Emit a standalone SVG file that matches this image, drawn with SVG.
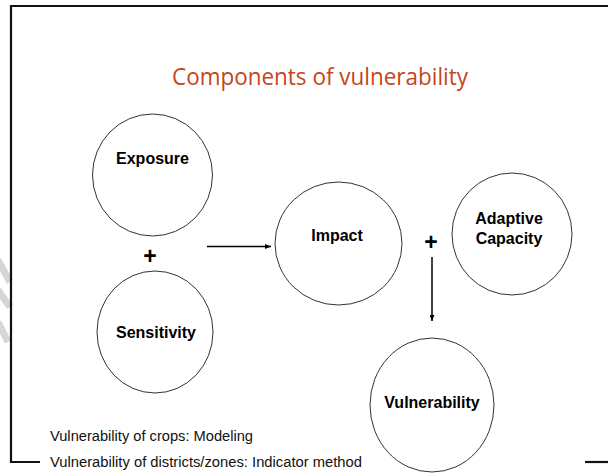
<svg xmlns="http://www.w3.org/2000/svg" width="608" height="476" viewBox="0 0 608 476">
  <defs>
    <marker id="arrow" viewBox="0 0 10 8" refX="10" refY="4" markerWidth="6" markerHeight="5" orient="auto" markerUnits="userSpaceOnUse">
      <path d="M0,0 L10,4 L0,8 z" fill="#000"/>
    </marker>
  </defs>
  <style>
    .node { fill: #fff; stroke: #333; stroke-width: 1; }
    .label { font-family: "Liberation Sans", Arial, sans-serif; font-weight: bold; font-size: 16px; fill: #000; text-anchor: middle; }
    .plus { font-family: "Liberation Sans", Arial, sans-serif; font-weight: bold; font-size: 23px; fill: #000; text-anchor: middle; }
    .note { font-family: "Liberation Sans", Arial, sans-serif; font-size: 14px; fill: #111; }
    .title { font-family: "Open Sans", "Noto Sans", sans-serif; font-size: 23px; fill: #C4461A; text-anchor: middle; }
    .conn { stroke: #000; stroke-width: 1.5; fill: none; }
    .frame { stroke: #111; stroke-width: 2.2; fill: none; }
    .mark { stroke: #d6d6d6; stroke-width: 7; fill: none; }
  </style>
  <rect width="608" height="476" fill="#fff"/>

  <!-- faint marks along the left edge -->
  <g id="edge-marks">
    <line class="mark" x1="-2" y1="260" x2="10" y2="282"/>
    <line class="mark" x1="-2" y1="290" x2="10" y2="307"/>
    <line class="mark" x1="-2" y1="322" x2="8" y2="342"/>
  </g>

  <!-- slide frame -->
  <g id="frame">
    <path class="frame" d="M40,462 H11 V6 H610"/>
    <path class="frame" d="M585,462 H610"/>
  </g>

  <text id="title" class="title" x="320" y="85" textLength="296" lengthAdjust="spacingAndGlyphs">Components of vulnerability</text>

  <g id="exposure">
    <ellipse class="node" cx="152.5" cy="175" rx="60" ry="61"/>
    <text class="label" x="152.5" y="164">Exposure</text>
  </g>
  <g id="sensitivity">
    <ellipse class="node" cx="155" cy="332" rx="58" ry="61"/>
    <text class="label" x="156" y="338">Sensitivity</text>
  </g>
  <g id="impact">
    <ellipse class="node" cx="338.5" cy="243.5" rx="63.5" ry="61.5"/>
    <text class="label" x="337" y="241">Impact</text>
  </g>
  <g id="adaptive-capacity">
    <ellipse class="node" cx="512" cy="234" rx="60" ry="61"/>
    <text class="label" x="509" y="224">Adaptive</text>
    <text class="label" x="509" y="244">Capacity</text>
  </g>
  <g id="vulnerability">
    <ellipse class="node" cx="432" cy="405" rx="62" ry="67"/>
    <text class="label" x="432" y="408">Vulnerability</text>
  </g>

  <g id="operators">
    <text class="plus" x="150" y="264">+</text>
    <text class="plus" x="431" y="250">+</text>
  </g>

  <g id="connectors">
    <line class="conn" x1="207" y1="246.5" x2="271" y2="246.5" marker-end="url(#arrow)"/>
    <line class="conn" x1="432" y1="257" x2="432" y2="321" marker-end="url(#arrow)"/>
  </g>

  <g id="notes">
    <text class="note" x="50" y="441" textLength="203" lengthAdjust="spacingAndGlyphs">Vulnerability of crops: Modeling</text>
    <text class="note" x="50" y="467" textLength="312" lengthAdjust="spacingAndGlyphs">Vulnerability of districts/zones: Indicator method</text>
  </g>
</svg>
